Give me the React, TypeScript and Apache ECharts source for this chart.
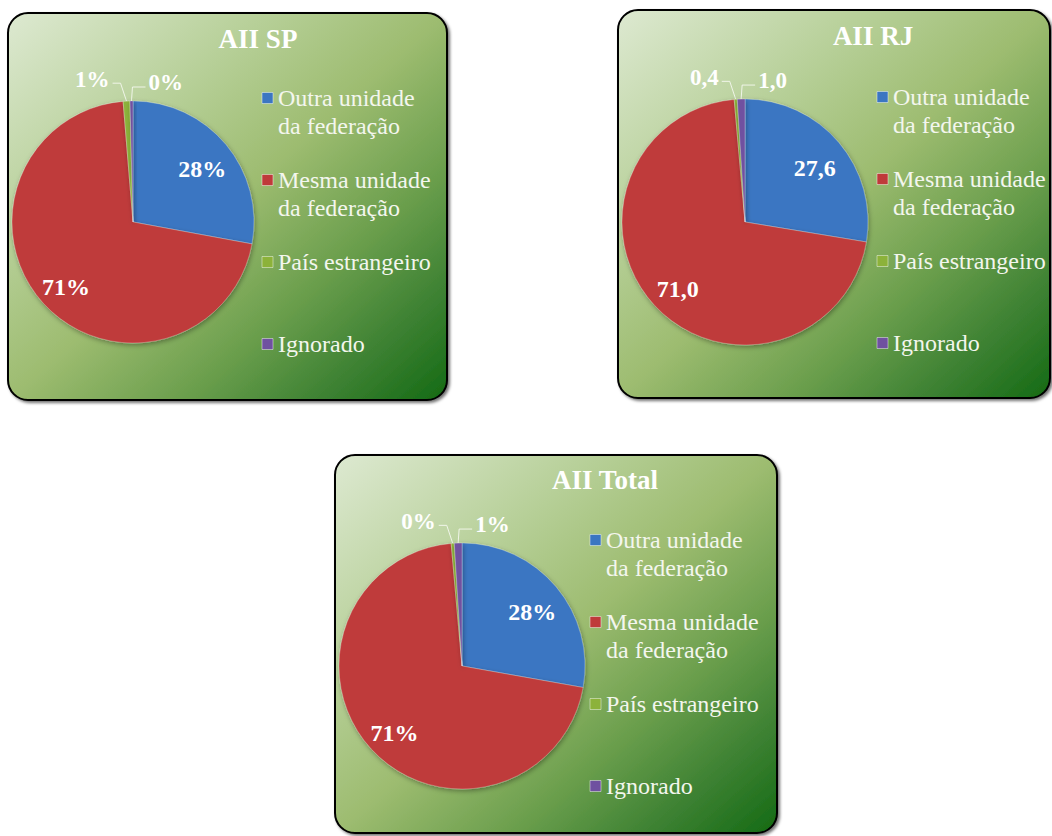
import React, { useEffect, useRef } from 'react';
import * as echarts from 'echarts';

const categories = ['Outra unidade da federação', 'Mesma unidade da federação', 'País estrangeiro', 'Ignorado'];
const sliceColors = ['#3b76c2', '#bf3a3a', '#8cb23a', '#6f51a0'];
const chartTitles = ['AII SP', 'AII RJ', 'AII Total'];
const spValues = [27.9, 70.8, 0.9, 0.4];
const rjValues = [27.6, 71.0, 0.4, 1.0];
const totalValues = [27.8, 70.8, 0.4, 1.0];
const labelModes = ['percent', 'decimal', 'percent'];

const seriesValues = [spValues, rjValues, totalValues];

const FONT = 'Liberation Serif';

const panels = [
  { x: 8, y: 13, w: 439, h: 387, cx: 133, cy: 222, r: 121, titleX: 258, titleY: 39, legendX: 262, legendY: 98 },
  { x: 618, y: 10, w: 432, h: 388, cx: 745, cy: 222, r: 123, titleX: 873, titleY: 36, legendX: 877, legendY: 97 },
  { x: 335, y: 455, w: 442, h: 378, cx: 462, cy: 666, r: 123, titleX: 605, titleY: 480, legendX: 590, legendY: 540 },
];
const LEGEND_STEP = 82;
const LINE_GAP = 28;

function buildOption() {
  const graphic: any[] = [];
  panels.forEach((p, i) => {
    graphic.push({
      type: 'rect',
      z: 0,
      shape: { x: p.x, y: p.y, width: p.w, height: p.h, r: 20 },
      style: {
        fill: {
          type: 'linear', x: 0, y: 0, x2: 1, y2: 1,
          colorStops: [
            { offset: 0, color: '#dde9d1' },
            { offset: 0.3, color: '#b6cf97' },
            { offset: 0.5, color: '#9dbc70' },
            { offset: 0.7, color: '#6a9e4c' },
            { offset: 0.85, color: '#3e8233' },
            { offset: 1, color: '#146a14' },
          ],
        },
        stroke: '#000',
        lineWidth: 2,
        shadowBlur: 3,
        shadowOffsetX: 2,
        shadowOffsetY: 2,
        shadowColor: 'rgba(0,0,0,0.55)',
      },
    });
    graphic.push({
      type: 'text',
      z: 10,
      x: p.titleX,
      y: p.titleY,
      style: {
        text: chartTitles[i],
        fill: '#ffffff',
        fontFamily: FONT,
        fontSize: 27,
        fontWeight: 'bold',
        align: 'center',
        verticalAlign: 'middle',
      },
    });
    categories.forEach((c, j) => {
      const my = p.legendY + j * LEGEND_STEP;
      graphic.push({
        type: 'rect',
        z: 10,
        shape: { x: p.legendX, y: my - 5.5, width: 11, height: 11 },
        style: { fill: sliceColors[j], stroke: 'rgba(255,255,255,0.45)', lineWidth: 1 },
      });
      const lines = c.replace(' da federação', '\nda federação').split('\n');
      lines.forEach((ln, k) => {
        graphic.push({
          type: 'text',
          z: 10,
          x: p.legendX + 16,
          y: my + k * LINE_GAP,
          style: {
            text: ln,
            fill: '#f3f6ee',
            fontFamily: 'Liberation Serif',
            fontSize: 24,
            fontWeight: 400,
            align: 'left',
            verticalAlign: 'middle',
          },
        });
      });
    });
  });

  const series = panels.map((p, i) => {
    const mode = labelModes[i];
    return {
      type: 'pie',
      z: 2,
      center: [p.cx, p.cy],
      radius: p.r,
      startAngle: 90,
      clockwise: true,
      avoidLabelOverlap: false,
      itemStyle: {
        borderColor: 'rgba(255,255,255,0.25)',
        borderWidth: 1,
        shadowBlur: 5,
        shadowOffsetX: 1,
        shadowOffsetY: 2,
        shadowColor: 'rgba(0,0,0,0.35)',
      },
      label: {
        show: true,
        position: 'outside',
        color: '#ffffff',
        fontFamily: FONT,
        fontSize: 23,
        fontWeight: 'bold',
        formatter: (prm: any) =>
          mode === 'percent'
            ? Math.round(prm.percent) + '%'
            : Number(prm.value).toFixed(1).replace('.', ','),
      },
      labelLine: {
        show: true,
        length: 15,
        length2: 10,
        lineStyle: { color: 'rgba(245,248,240,0.9)', width: 1 },
      },
      labelLayout: (prm: any) => {
        const j = prm.dataIndex;
        if (j < 2) {
          const lr = prm.labelRect;
          const lx = lr.x + lr.width / 2;
          const ly = lr.y + lr.height / 2;
          return { dx: (lx - p.cx) * 0.42, dy: (ly - p.cy) * 0.42 + 5 };
        }
        const pts = prm.labelLinePoints;
        if (!pts) return {};
        const E = pts[0];
        if (j === 2) {
          return {
            x: E[0] - 17,
            y: E[1] - 22,
            align: 'right',
            verticalAlign: 'middle',
            labelLinePoints: [E, [E[0] - 6, E[1] - 18], [E[0] - 14, E[1] - 18]],
          };
        }
        return {
          x: E[0] + 17,
          y: E[1] - 19,
          align: 'left',
          verticalAlign: 'middle',
          labelLinePoints: [E, [E[0] + 1, E[1] - 14], [E[0] + 14, E[1] - 14]],
        };
      },
      data: seriesValues[i].map((v, j) => ({
        name: categories[j],
        value: v,
        itemStyle: { color: sliceColors[j] },
        label: j < 2 ? { position: 'inside', fontSize: 24 } : undefined,
        labelLine: j < 2 ? { show: false } : undefined,
      })),
    };
  });

  return {
    animation: false,
    backgroundColor: '#ffffff',
    graphic,
    series,
  };
}

export default function App() {
  const ref = useRef<HTMLDivElement>(null);
  useEffect(() => {
    if (!ref.current) return;
    const chart = echarts.init(ref.current, null, { renderer: 'svg' });
    chart.setOption(buildOption() as any);
    return () => chart.dispose();
  }, []);
  return (
    <div
      ref={ref}
      style={{ position: 'absolute', left: 0, top: 0, width: 1052, height: 836 }}
    />
  );
}
